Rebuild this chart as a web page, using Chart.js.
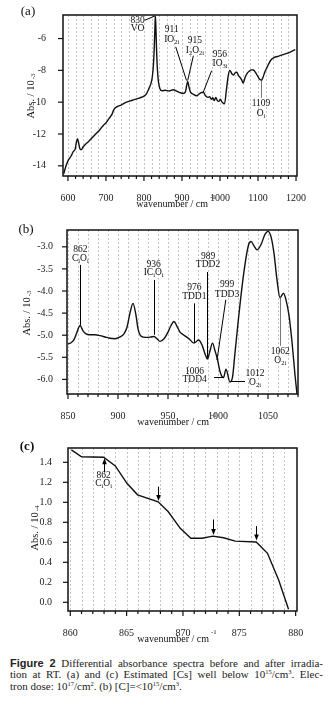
<!DOCTYPE html>
<html>
<head>
<meta charset="utf-8">
<script src="https://cdn.jsdelivr.net/npm/chart.js@4.4.1/dist/chart.umd.min.js"></script>
<style>
  body { margin: 0; background: #fff; width: 331px; height: 708px; overflow: hidden; position: relative; }
  canvas { position: absolute; left: 0; }
  #caption { position: absolute; left: 10px; top: 658px; width: 313px; font-family: 'Liberation Serif', 'Times New Roman', serif; font-size: 11px; line-height: 11.4px; color: #222; }
  #caption .ln { white-space: nowrap; text-align: justify; text-align-last: justify; }
  #caption .ln.last { text-align-last: left; }
  #caption b { font-family: 'Liberation Sans', Arial, sans-serif; font-size: 11px; }
  #caption sup { font-size: 6.5px; vertical-align: 4px; line-height: 0; }
</style>
</head>
<body>
<canvas id="chartA" width="331" height="215" style="top:0"></canvas>
<canvas id="chartB" width="331" height="215" style="top:215px"></canvas>
<canvas id="chartC" width="331" height="220" style="top:430px"></canvas>
<div id="caption">
  <div class="ln"><b>Figure 2</b> Differential absorbance spectra before and after irradia-</div>
  <div class="ln">tion at RT. (a) and (c) Estimated [Cs] well below 10<sup>15</sup>/cm<sup>3</sup>. Elec-</div>
  <div class="ln last">tron dose: 10<sup>17</sup>/cm<sup>2</sup>. (b) [C]=&lt;10<sup>15</sup>/cm<sup>3</sup>.</div>
</div>
<script>
// panel (a)
const aWave = [589, 595, 601, 608, 614, 619, 622, 625, 628, 631, 635, 640, 646, 655, 665, 675, 685, 693, 700, 706,
  712, 716, 720, 725, 732, 740, 754, 770, 789, 800, 806, 812, 818, 822, 825, 827, 829, 830, 831, 833,
  835, 838, 842, 848, 856, 866, 877, 886, 895, 903, 909, 912, 915, 918, 922, 930, 939, 947, 956, 962,
  968, 973, 977, 981, 985, 989, 993, 997, 1001, 1005, 1008, 1012, 1017, 1022, 1026, 1031, 1035, 1040, 1044, 1049,
  1053, 1057, 1061, 1066, 1071, 1077, 1083, 1088, 1094, 1100, 1105, 1109, 1113, 1118, 1123, 1128, 1134, 1142, 1155, 1170,
  1185, 1198];
const aAbs = [-14.5, -14.0, -13.64, -13.4, -13.1, -12.95, -12.55, -12.3, -12.55, -12.9, -13.0, -12.8, -12.65, -12.45, -12.2, -11.95, -11.7, -11.46, -11.3, -11.1,
  -10.9, -10.75, -10.5, -10.35, -10.25, -10.18, -10.0, -9.88, -9.73, -9.62, -9.5, -9.2, -8.85, -8.4, -7.6, -6.6, -5.2, -4.6, -5.0, -6.6,
  -7.8, -8.7, -9.15, -9.28, -9.25, -9.3, -9.22, -9.3, -9.4, -9.45, -9.35, -9.0, -8.7, -9.0, -9.35, -9.5, -9.6, -9.45, -9.38, -9.6,
  -9.7, -9.65, -9.82, -9.72, -9.9, -9.7, -9.9, -9.95, -9.82, -9.98, -10.05, -10.1, -9.2, -8.3, -8.0, -8.2, -8.3, -8.15, -8.12, -8.35,
  -8.45, -8.6, -8.8, -8.45, -8.2, -8.05, -7.97, -7.98, -8.15, -8.4, -8.58, -8.62, -8.45, -8.1, -7.85, -7.6, -7.35, -7.2, -7.1, -6.98,
  -6.85, -6.7];
const aXTicks = [600, 700, 800, 900, 1000, 1100, 1200];
const aYTicks = [-14, -12, -10, -8, -6];

// panel (b)
const bWave = [850, 853, 856, 859, 862, 865, 868, 872, 877, 882, 887, 892, 897, 902, 906, 909, 912, 915, 918, 920,
  923, 928, 933, 936, 939, 942, 946, 950, 953, 956, 959, 962, 966, 971, 976, 980.5, 984, 987, 989.5, 992,
  994.5, 997, 999.5, 1002, 1005.5, 1008, 1012, 1014.5, 1017, 1020.5, 1025.5, 1030.5, 1033, 1036, 1039, 1043, 1047, 1050, 1053, 1056,
  1059, 1062, 1065.5, 1068, 1071, 1074, 1077, 1079];
const bAbs = [-5.2, -5.17, -5.1, -4.93, -4.78, -4.9, -4.97, -4.99, -4.99, -5.01, -5.04, -5.07, -5.08, -5.04, -4.97, -4.82, -4.5, -4.28, -4.55, -4.85,
  -5.02, -5.05, -5.04, -5.03, -5.08, -5.14, -5.08, -4.93, -4.78, -4.69, -4.8, -4.93, -5.0, -5.08, -5.18, -5.11, -5.22, -5.42, -5.54, -5.35,
  -5.18, -5.35, -5.55, -5.82, -5.96, -5.77, -6.06, -5.95, -5.4, -4.62, -3.64, -2.96, -2.88, -2.98, -3.07, -2.95, -2.72, -2.65, -2.77, -3.15,
  -3.75, -4.15, -4.05, -4.2, -4.55, -5.15, -5.9, -6.33];
const bXTicks = [850, 900, 950, 1000, 1050];
const bYTicks = [-6.0, -5.5, -5.0, -4.5, -4.0, -3.5, -3.0];

// panel (c)
const cWave = [860.1, 861.0, 862.96, 864.0, 865.03, 865.97, 867.8, 868.7, 869.76, 870.7, 871.7, 872.66, 873.6, 874.64, 876.5, 877.5, 878.5, 879.37];
const cAbs = [1.525, 1.455, 1.45, 1.364, 1.19, 1.075, 1.005, 0.905, 0.74, 0.64, 0.64, 0.662, 0.645, 0.612, 0.603, 0.49, 0.22, -0.07];
const cXTicks = [860, 865, 870, 875, 880];
const cYTicks = [0.0, 0.2, 0.4, 0.6, 0.8, 1.0, 1.2, 1.4];

// peak labels: [text, wavenumber, abs], leader lines [x1, y1, x2, y2]
const aNotes = [
  { texts: [['830', 783, -4.85], ['VO', 783, -5.38]], lines: [[802, -4.85, 829, -4.58]] },
  { texts: [['911', 873, -5.46], ['IO_{2i}', 873, -6.05]], lines: [[883.5, -6.52, 912, -8.64]] },
  { texts: [['915', 934, -6.14], ['I_{2}O_{2i}', 934, -6.77]], lines: [[930, -7.08, 915, -8.64]] },
  { texts: [['956', 1000, -6.98], ['IO_{3i}', 1000, -7.56]], lines: [[978, -8.02, 956, -9.37]] },
  { texts: [['1109', 1108, -10.1], ['O_{i}', 1108, -10.72]], lines: [[1108, -8.65, 1108, -9.72]], color: '#777' }
];
const bNotes = [
  { texts: [['862', 862.3, -3.06], ['C_{i}O_{i}', 862.3, -3.27]], lines: [[862, -3.41, 862, -4.77]] },
  { texts: [['936', 935.6, -3.39], ['IC_{i}O_{i}', 935.6, -3.59]], lines: [[936, -3.75, 936, -4.99]] },
  { texts: [['976', 976.3, -3.93], ['TDD1', 976.3, -4.12]], lines: [[976, -4.28, 976, -5.17]] },
  { texts: [['989', 990, -3.22], ['TDD2', 990, -3.41]], lines: [[989, -3.57, 989, -5.51]] },
  { texts: [['999', 1009, -3.85], ['TDD3', 1009, -4.07]], lines: [[1007.8, -4.2, 999, -5.56]] },
  { texts: [['1006', 976.6, -5.81], ['TDD4', 976.6, -6.01]], lines: [[996, -5.94, 1005.5, -5.94]] },
  { texts: [['1012', 1037, -5.86], ['O_{2i}', 1037, -6.07]], lines: [[1013, -6.03, 1027, -6.03]] },
  { texts: [['1062', 1062.3, -5.37], ['O_{2i}', 1062.3, -5.58]], lines: [[1062, -4.15, 1062, -5.24]], color: '#777' }
];
const cNotes = [
  { texts: [['862', 862.96, 1.27], ['C_{i}O_{i}', 862.96, 1.19]], arrows: [[862.96, 1.30, 1.44]] },
  { texts: [], arrows: [[867.8, 1.157, 1.013], [872.66, 0.828, 0.672], [876.5, 0.762, 0.617]] }
];

const SERIF = "'Liberation Serif', 'Times New Roman', serif";

function richParts(s) {
  const parts = [];
  const re = /([_^])\{([^}]*)\}/g;
  let last = 0, m;
  while ((m = re.exec(s))) {
    if (m.index > last) parts.push({ t: s.slice(last, m.index), k: '' });
    parts.push({ t: m[2], k: m[1] });
    last = re.lastIndex;
  }
  if (last < s.length) parts.push({ t: s.slice(last), k: '' });
  return parts;
}

function drawRich(ctx, s, x, y, size, supShift, supGap) {
  const parts = richParts(s);
  const fontFor = k => (k ? size * 0.68 : size) + 'px ' + SERIF;
  let w = 0;
  parts.forEach(p => { ctx.font = fontFor(p.k); p.w = ctx.measureText(p.t).width + (p.k === '^' ? (supGap || 0) : 0); w += p.w; });
  let cx = x - w / 2;
  ctx.textAlign = 'left';
  ctx.textBaseline = 'middle';
  parts.forEach(p => {
    ctx.font = fontFor(p.k);
    let dy = 0, dx = 0;
    if (p.k === '_') dy = size * 0.3;
    if (p.k === '^') { dy = supShift !== undefined ? supShift : -size * 0.6; dx = supGap || 0; }
    ctx.fillText(p.t, cx + dx, y + dy);
    cx += p.w;
  });
}

function minorTicks(first, last, step) {
  const out = [];
  for (let v = first; v <= last + 1e-9; v += step) out.push(Math.round(v * 1000) / 1000);
  return out;
}

function makePanel(id, p) {
  const xMinor = minorTicks(p.xMinorFrom, p.xMinorTo, p.xStep);
  const decor = {
    id: 'decor',
    beforeDatasetsDraw(chart) {
      const { ctx, chartArea: a, scales: { x } } = chart;
      ctx.save();
      ctx.strokeStyle = '#c4c4c4';
      ctx.lineWidth = 1;
      ctx.setLineDash([2, 2]);
      xMinor.forEach(v => {
        const px = Math.round(x.getPixelForValue(v)) + 0.5;
        if (px < a.left + 1 || px > a.right - 1) return;
        ctx.beginPath(); ctx.moveTo(px, a.top); ctx.lineTo(px, a.bottom); ctx.stroke();
      });
      ctx.restore();
    },
    afterDraw(chart) {
      const { ctx, chartArea: a, scales: { x, y } } = chart;
      ctx.save();
      ctx.strokeStyle = '#111';
      ctx.fillStyle = '#111';
      // tick marks
      ctx.lineWidth = 1.2;
      xMinor.forEach(v => {
        const px = x.getPixelForValue(v);
        const len = p.xTicks.includes(v) ? 5 : 3;
        ctx.beginPath(); ctx.moveTo(px, a.bottom); ctx.lineTo(px, a.bottom + len); ctx.stroke();
      });
      p.yTicks.forEach(v => {
        const py = y.getPixelForValue(v);
        ctx.beginPath(); ctx.moveTo(a.left, py); ctx.lineTo(a.left - 5, py); ctx.stroke();
      });
      // frame
      ctx.lineWidth = 1.5;
      ctx.strokeRect(a.left, a.top, a.right - a.left, a.bottom - a.top);
      // peak notes
      const snap = v => Math.round(v) + 0.5;
      p.notes.forEach(n => {
        ctx.strokeStyle = n.color || '#000';
        ctx.lineWidth = 1;
        (n.lines || []).forEach(l => {
          let x1 = x.getPixelForValue(l[0]), x2 = x.getPixelForValue(l[2]);
          let y1 = y.getPixelForValue(l[1]), y2 = y.getPixelForValue(l[3]);
          if (l[0] === l[2]) { x1 = x2 = snap(x1); }
          if (l[1] === l[3]) { y1 = y2 = snap(y1); }
          ctx.beginPath(); ctx.moveTo(x1, y1); ctx.lineTo(x2, y2); ctx.stroke();
        });
        ctx.strokeStyle = '#000';
        ctx.fillStyle = '#000';
        (n.arrows || []).forEach(r => {
          const px = snap(x.getPixelForValue(r[0]));
          const y0 = y.getPixelForValue(r[1]);
          const y1 = y.getPixelForValue(r[2]);
          const dir = y1 < y0 ? -1 : 1;
          ctx.beginPath(); ctx.moveTo(px, y0); ctx.lineTo(px, y1 - dir * 4); ctx.stroke();
          ctx.beginPath();
          ctx.moveTo(px, y1);
          ctx.lineTo(px - 2.3, y1 - dir * 6);
          ctx.lineTo(px + 2.3, y1 - dir * 6);
          ctx.closePath(); ctx.fill();
        });
        ctx.fillStyle = '#111';
        n.texts.forEach(t => drawRich(ctx, t[0], x.getPixelForValue(t[1]), y.getPixelForValue(t[2]), 9.5));
      });
      // panel label
      ctx.fillStyle = '#111';
      ctx.font = (p.labelBold ? 'bold ' : '') + '13px ' + SERIF;
      ctx.textAlign = 'center';
      ctx.textBaseline = 'middle';
      ctx.fillText(p.label, p.labelPos[0], p.labelPos[1]);
      // axis titles
      drawRich(ctx, 'wavenumber / cm^{-1}', p.xTitlePos[0], p.xTitlePos[1], 10, -7, 2);
      ctx.translate(p.yTitlePos[0], p.yTitlePos[1]);
      ctx.rotate(-Math.PI / 2);
      drawRich(ctx, p.yTitle, 0, 0, 10.5, 2.5, 1);
      ctx.restore();
    }
  };

  return new Chart(document.getElementById(id), {
    type: 'line',
    data: {
      datasets: [{
        data: p.wave.map((v, i) => ({ x: v, y: p.abs[i] })),
        borderColor: '#111',
        borderWidth: 1.4,
        pointRadius: 0,
        fill: false,
        tension: 0,
        cubicInterpolationMode: p.smooth ? 'monotone' : 'default'
      }]
    },
    options: {
      responsive: false,
      animation: false,
      layout: { padding: { left: 0, right: 331 - p.area.right, top: p.area.top, bottom: 0 } },
      plugins: { legend: { display: false }, tooltip: { enabled: false } },
      scales: {
        x: {
          type: 'linear',
          min: p.xMin, max: p.xMax,
          grid: { display: false },
          border: { display: false },
          afterBuildTicks: s => { s.ticks = xMinor.map(v => ({ value: v })); },
          afterFit: s => { s.height = p.canvasH - p.area.bottom; },
          ticks: {
            autoSkip: false, maxRotation: 0, padding: 8, color: '#222',
            font: { family: SERIF, size: 10 },
            callback: v => p.xTicks.includes(v) ? String(v) : ''
          }
        },
        y: {
          min: p.yMin, max: p.yMax,
          grid: { display: false },
          border: { display: false },
          afterBuildTicks: s => { s.ticks = p.yTicks.map(v => ({ value: v })); },
          afterFit: s => { s.width = p.area.left; },
          ticks: {
            padding: p.yPad, color: '#222',
            font: { family: SERIF, size: 10 },
            callback: v => p.yFmt(v)
          }
        }
      }
    },
    plugins: [decor]
  });
}

makePanel('chartA', {
  wave: aWave, abs: aAbs, smooth: true, canvasH: 215,
  area: { left: 63, right: 297, top: 14, bottom: 176 },
  xMin: 587, xMax: 1202.6, yMin: -14.64, yMax: -4.52,
  xTicks: aXTicks, yTicks: aYTicks, xMinorFrom: 600, xMinorTo: 1200, xStep: 20,
  yPad: 9, yFmt: v => String(v),
  notes: aNotes, label: '(a)', labelPos: [28, 12],
  xTitlePos: [176, 204], yTitlePos: [31, 96], yTitle: 'Abs. / 10^{-3}'
});

makePanel('chartB', {
  wave: bWave, abs: bAbs, smooth: true, canvasH: 215,
  area: { left: 67, right: 298, top: 15, bottom: 179 },
  xMin: 849, xMax: 1080, yMin: -6.33, yMax: -2.62,
  xTicks: bXTicks, yTicks: bYTicks, xMinorFrom: 850, xMinorTo: 1080, xStep: 10,
  yPad: 6, yFmt: v => v.toFixed(1),
  notes: bNotes, label: '(b)', labelPos: [26, 15],
  xTitlePos: [177, 207], yTitlePos: [27, 98], yTitle: 'Abs. / 10^{-3}'
});

makePanel('chartC', {
  wave: cWave, abs: cAbs, smooth: false, canvasH: 220,
  area: { left: 68, right: 297, top: 18, bottom: 181 },
  xMin: 859.8, xMax: 880.12, yMin: -0.087, yMax: 1.543,
  xTicks: cXTicks, yTicks: cYTicks, xMinorFrom: 860, xMinorTo: 880, xStep: 1,
  yPad: 8, yFmt: v => v.toFixed(1),
  notes: cNotes, label: '(c)', labelBold: true, labelPos: [27, 17],
  xTitlePos: [177, 209], yTitlePos: [35, 98], yTitle: 'Abs. / 10^{-4}'
});
</script>
</body>
</html>
